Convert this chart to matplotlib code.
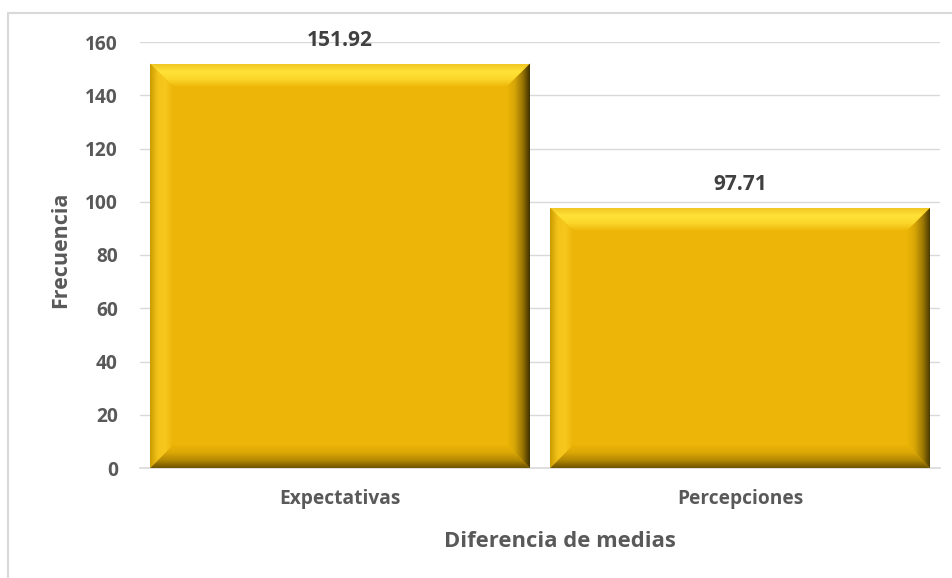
import matplotlib
matplotlib.use("Agg")
import matplotlib.pyplot as plt
import numpy as np
from matplotlib.colors import LinearSegmentedColormap
from matplotlib.patches import Polygon, Rectangle

categories = ["Expectativas", "Percepciones"]
values = [151.92, 97.71]
yticks = [0, 20, 40, 60, 80, 100, 120, 140, 160]

TEXT = "#595959"
LABEL = "#404040"
GRID = "#D9D9D9"
FACE = "#EDB507"
BEVEL_PX = 23

plt.rcParams["font.family"] = ["Open Sans", "DejaVu Sans"]

fig = plt.figure(figsize=(9.53, 5.78), dpi=100)
ax = fig.add_axes([140 / 953, 1 - 468 / 578, 800 / 953, 426 / 578])

# light chart border (top and left edges visible)
fig.add_artist(Rectangle((8 / 953, -0.1), 1.2, 1 - 13 / 578 + 0.1,
                         transform=fig.transFigure, fill=False,
                         edgecolor=GRID, linewidth=1.5))

x = np.arange(len(categories))
bars = ax.bar(x, values, width=0.95, color=FACE, zorder=2)

ax.set_xlim(-0.5, len(categories) - 0.5)
ax.set_ylim(0, 160)
ax.set_yticks(yticks)
ax.set_xticks(x)
ax.set_xticklabels(categories)
ax.yaxis.grid(True, color=GRID, linewidth=1, zorder=0)
ax.set_axisbelow(True)
for s in ["top", "right", "left"]:
    ax.spines[s].set_visible(False)
ax.spines["bottom"].set_color(GRID)
ax.spines["bottom"].set_linewidth(1.2)
ax.tick_params(length=0, colors=TEXT, labelsize=13.8)
ax.tick_params(axis="x", pad=15)
ax.tick_params(axis="y", pad=16)
for lab in ax.get_xticklabels() + ax.get_yticklabels():
    lab.set_fontweight("bold")
ax.set_xlabel("Diferencia de medias", fontsize=15.8, fontweight="bold",
              color=TEXT)
ax.set_ylabel("Frecuencia", fontsize=15.5, fontweight="bold", color=TEXT)
ax.xaxis.set_label_coords(0.525, -0.148)
ax.yaxis.set_label_coords(-0.086, 0.512)

# bevel size in data units
px_x = ax.transData.transform((1, 0))[0] - ax.transData.transform((0, 0))[0]
px_y = ax.transData.transform((0, 1))[1] - ax.transData.transform((0, 0))[1]
dx = BEVEL_PX / px_x
dy = BEVEL_PX / px_y


def bevel(poly, extent, stops, along):
    # gradient from outer edge (t=0) to inner edge (t=1)
    cmap = LinearSegmentedColormap.from_list("b", stops)
    t = np.linspace(0, 1, 256)
    if along == "top":
        arr = t[::-1, None]
    elif along == "bottom":
        arr = t[:, None]
    elif along == "left":
        arr = t[None, :]
    else:
        arr = t[None, ::-1]
    im = ax.imshow(arr, extent=extent, cmap=cmap, aspect="auto",
                   origin="lower", interpolation="bilinear", zorder=3)
    patch = Polygon(poly, closed=True, facecolor="none", edgecolor="none",
                    transform=ax.transData)
    ax.add_patch(patch)
    im.set_clip_path(patch)


for rect in bars:
    x0 = rect.get_x()
    x1 = x0 + rect.get_width()
    h = rect.get_height()
    bevel([(x0, h), (x1, h), (x1 - dx, h - dy), (x0 + dx, h - dy)],
          [x0, x1, h - dy, h],
          ["#F1C624", "#FFE236", "#FBD62A", FACE], "top")
    bevel([(x0, 0), (x1, 0), (x1 - dx, dy), (x0 + dx, dy)],
          [x0, x1, 0, dy],
          ["#6E5300", "#B58A04", "#DDA906", FACE], "bottom")
    bevel([(x0, 0), (x0, h), (x0 + dx, h - dy), (x0 + dx, dy)],
          [x0, x0 + dx, 0, h],
          ["#C99B00", "#F3C31A", "#F6C81E", FACE], "left")
    bevel([(x1, 0), (x1, h), (x1 - dx, h - dy), (x1 - dx, dy)],
          [x1 - dx, x1, 0, h],
          ["#3E3000", "#9C7804", "#D6A506", FACE], "right")
    ax.annotate(f"{h:.2f}", (rect.get_x() + rect.get_width() / 2, h),
                xytext=(0, 9), textcoords="offset points", ha="center",
                va="bottom", fontsize=15, fontweight="bold", color=LABEL)

ax.set_xlim(-0.5, len(categories) - 0.5)
ax.set_ylim(0, 160)

fig.savefig("out.png", dpi=100)
